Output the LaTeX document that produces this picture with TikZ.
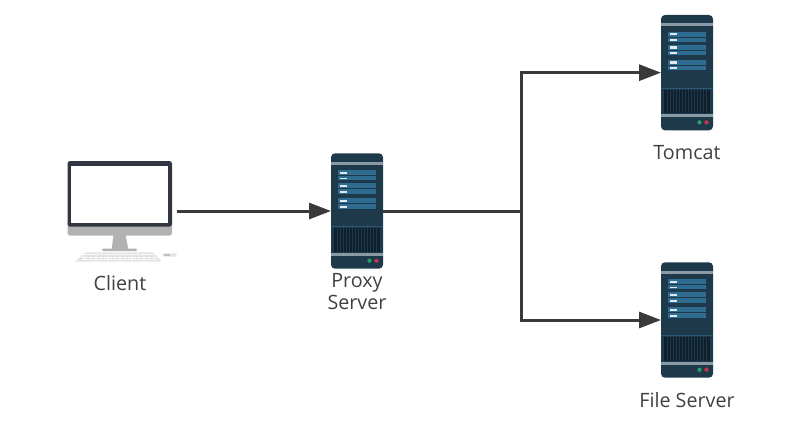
\documentclass[tikz,border=0pt]{standalone}
\usepackage{xcolor}
\usepackage{fontspec}
\setmainfont{Open Sans}
\usetikzlibrary{arrows.meta,positioning}
\definecolor{srvbody}  {RGB}{ 30, 58, 74}
\definecolor{srvstripe}{RGB}{ 46,108,146}
\definecolor{srvline}  {RGB}{138,155,165}
\definecolor{srvgrille}{RGB}{ 14, 32, 46}
\definecolor{srvgreen} {RGB}{ 40,160,110}
\definecolor{srvred}   {RGB}{200, 50, 80}
\definecolor{pcdark}   {RGB}{ 50, 54, 66}
\definecolor{pcgray}   {RGB}{178,178,178}
\definecolor{pclight}  {RGB}{228,228,228}
\definecolor{arrdark}  {RGB}{ 58, 58, 58}
\definecolor{lbltext}  {RGB}{ 64, 64, 64}
\tikzset{
  srv/.style={minimum width=39pt,minimum height=86.5pt,inner sep=0pt,outer sep=0pt},
  pc/.style={minimum width=78pt,minimum height=73.5pt,inner sep=0pt,outer sep=0pt},
  arr/.style={-{Triangle[length=16.5pt,width=12pt]},line width=2.25pt,color=arrdark},
  lnk/.style={line width=2.25pt,color=arrdark},
  lbl/.style={font=\fontsize{14.8pt}{16.5pt}\selectfont,text=lbltext,align=center,inner sep=0pt},
  srvicon/.pic={
    \fill[srvbody,rounded corners=3pt] (-26,-57.7) rectangle (26,57.7);
    \fill[srvline] (-26,-49.5) rectangle (26,-46.5);
    \fill[srvline] (-26,41.5) rectangle (26,44.5);
    \fill[srvgrille] (-23,17.3) rectangle (22.5,40.7);
    \draw[srvstripe!60!srvbody,line width=0.5pt] (-26,15.7) -- (26,15.7);
    % stripes
    \foreach \ya/\yb in {-41/-36,-35/-30.7,-27.7/-22.7,-22/-17.3,-12.7/-7.7,-6.7/-2.3}{
      \fill[srvstripe] (-19,\ya) rectangle (18.5,\yb);
      \fill[white!85!srvstripe] (-17.5,\ya+1.5) rectangle (-10,\yb-1.2);
    }
    % grille
    \foreach \gx in {-20,-17,...,20}{
      \draw[srvbody,line width=0.5pt] (\gx,17.3) -- (\gx,40.7);
    }
    \fill[srvgreen] (12.5,49.7) circle (1.6pt);
    \fill[srvred] (19.5,49.7) circle (1.6pt);
  },
  pcicon/.pic={
    \fill[pcgray] (-6.5,24) -- (5.5,24) -- (8.3,38) -- (-8.3,38) -- cycle;
    \fill[pcgray,rounded corners=1pt] (-18.3,37.5) rectangle (17.3,40);
    \fill[pcgray,rounded corners=2pt] (-52.5,10) rectangle (52,24.7);
    \fill[pcdark,rounded corners=2pt] (-52.5,-50) rectangle (52,15.7);
    \fill[white] (-49,-45) rectangle (47.5,12.3);
    % keyboard
    \fill[pclight] (-35,41.3) -- (33.3,41.3) -- (41.7,50.7) -- (-45,50.7) -- cycle;
    \foreach \ky in {43.5,46,48.5}{
      \draw[white,line width=0.5pt,dash pattern=on 1.2pt off 0.6pt] (-38,\ky) -- (36,\ky);
    }
    \fill[pclight,rounded corners=1pt] (42.5,42.3) rectangle (56.7,45.7);
    \fill[pcgray!70!pclight] (44,43.3) rectangle (50,44.7);
  },
}
\begin{document}
\begin{tikzpicture}[x=0.75pt,y=-0.75pt,node distance=119.25pt]
  \useasboundingbox (0,0) rectangle (800,425);
  % Machines
  \node[pc](client) at (120,211)           {};
  \node[srv,right=of client](proxy)        {};
  \node[srv,above right=17.25pt and 208.5pt of proxy](tomcat) {};
  \node[srv,below=99pt of tomcat](fileserver) {};
  \pic at (client) {pcicon};
  \pic at (proxy) {srvicon};
  \pic at (tomcat) {srvicon};
  \pic at (fileserver) {srvicon};

  % Labels
  \node[lbl,below=17.25pt of client.south,anchor=center](clientlbl) {Client};
  \node[lbl,below=0pt of proxy.south,anchor=north,yshift=-3pt](proxylbl) {Proxy\\Server};
  \node[lbl,below=16.5pt of tomcat.south,anchor=center](tomcatlbl) {Tomcat};
  \node[lbl,below=16.5pt of fileserver.south,anchor=center](filelbl) {File Server};

  % Arrows
  \coordinate[right=103.5pt of proxy.east](fork);
  \draw[arr,shorten <=3.75pt](client.east) -- (proxy.west);
  \draw[lnk](proxy.east) -- (fork);
  \draw[arr](fork) |- (tomcat.west);
  \draw[arr](fork) |- (fileserver.west);
\end{tikzpicture}
\end{document}
